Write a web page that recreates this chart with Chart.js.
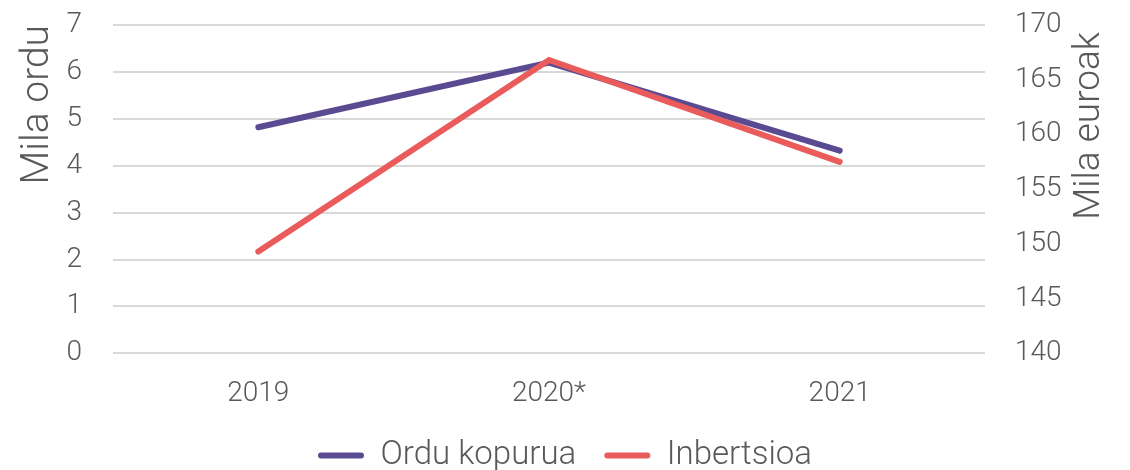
<!DOCTYPE html>
<html>
<head>
<meta charset="utf-8">
<script src="https://cdn.jsdelivr.net/npm/chart.js@4"></script>
<style>
  html, body { margin: 0; padding: 0; background: #fff; }
  #wrap { width: 1130px; height: 470px; }
</style>
</head>
<body>
<div id="wrap"><canvas id="chart" width="1130" height="470"></canvas></div>
<script>
// Chart data
const years = ['2019', '2020*', '2021'];
const orduKopurua = [4.82, 6.2, 4.32];      // mila ordu (left axis)
const inbertsioa = [149.3, 166.8, 157.5];   // mila euroak (right axis)

const leftTicks = [0, 1, 2, 3, 4, 5, 6, 7];
const rightTicks = [140, 145, 150, 155, 160, 165, 170];

const textColor = '#595959';
const gridColor = '#d9d9d9';
const fontFamily = "'Roboto', sans-serif";

Chart.defaults.font.family = fontFamily;
Chart.defaults.font.weight = 300;
Chart.defaults.color = textColor;

// Right axis title reads bottom-to-top in the original, Chart.js turns it the other way
const rightTitle = {
    id: 'rightTitle',
    afterDraw(chart) {
        const c = chart.ctx;
        c.save();
        c.font = `300 37px ${fontFamily}`;
        c.fillStyle = textColor;
        c.translate(1090, chart.chartArea.top + 7);
        c.rotate(-Math.PI / 2);
        c.textAlign = 'right';
        c.textBaseline = 'middle';
        c.fillText('Mila euroak', 0, 0);
        c.restore();
    }
};

// fixed axis width, and keep tick padding from pushing the plot down
function fitY(width) {
    return axis => {
        axis.width = width;
        axis.paddingTop = 25;
        axis.paddingBottom = 0;
    };
}

const ctx = document.getElementById('chart').getContext('2d');
new Chart(ctx, {
    type: 'line',
    data: {
        labels: years,
        datasets: [{
            label: 'Ordu kopurua',
            data: orduKopurua,
            yAxisID: 'y',
            order: 1,
            borderColor: '#5a4a92',
            backgroundColor: '#5a4a92',
            borderWidth: 6,
            pointRadius: 0,
            borderCapStyle: 'round',
            tension: 0
        }, {
            label: 'Inbertsioa',
            data: inbertsioa,
            yAxisID: 'y1',
            order: 0,   // red line sits on top
            borderColor: '#e95c5b',
            backgroundColor: '#e95c5b',
            borderWidth: 6,
            pointRadius: 0,
            borderCapStyle: 'round',
            tension: 0
        }]
    },
    options: {
        responsive: false,
        animation: false,
        layout: { padding: { top: 0, right: 0, bottom: -12, left: 0 } },
        plugins: {
            tooltip: { enabled: false },
            legend: {
                position: 'bottom',
                labels: {
                    font: { size: 33, weight: 300 },
                    color: textColor,
                    boxWidth: 46,
                    boxHeight: 6,
                    useBorderRadius: true,
                    borderRadius: 3,
                    padding: 12,
                    generateLabels: chart => Chart.defaults.plugins.legend.labels.generateLabels(chart)
                        .sort((a, b) => a.datasetIndex - b.datasetIndex)
                        .map((item, i, all) => ({
                            ...item,
                            lineWidth: 0,
                            text: i < all.length - 1 ? item.text + '  ' : item.text
                        }))
                }
            }
        },
        scales: {
            x: {
                offset: true,
                grid: { display: false },
                border: { display: false },
                ticks: { font: { size: 28 }, padding: 16 }
            },
            y: {
                position: 'left',
                min: 0,
                max: 7,
                afterBuildTicks: axis => { axis.ticks = leftTicks.map(v => ({ value: v })); },
                afterFit: fitY(113),
                grid: { color: gridColor, lineWidth: 2, drawTicks: false },
                border: { display: false },
                ticks: { font: { size: 28 }, padding: 31 },
                title: { display: true, text: 'Mila ordu', align: 'end', font: { size: 39, weight: 300 }, padding: { top: 15, bottom: 0 } }
            },
            y1: {
                position: 'right',
                min: 140,
                max: 170,
                afterBuildTicks: axis => { axis.ticks = rightTicks.map(v => ({ value: v })); },
                afterFit: fitY(145),
                grid: { display: false, drawTicks: false },
                border: { display: false },
                ticks: { font: { size: 28 }, padding: 30 }
            }
        }
    },
    plugins: [rightTitle]
});
</script>
</body>
</html>
